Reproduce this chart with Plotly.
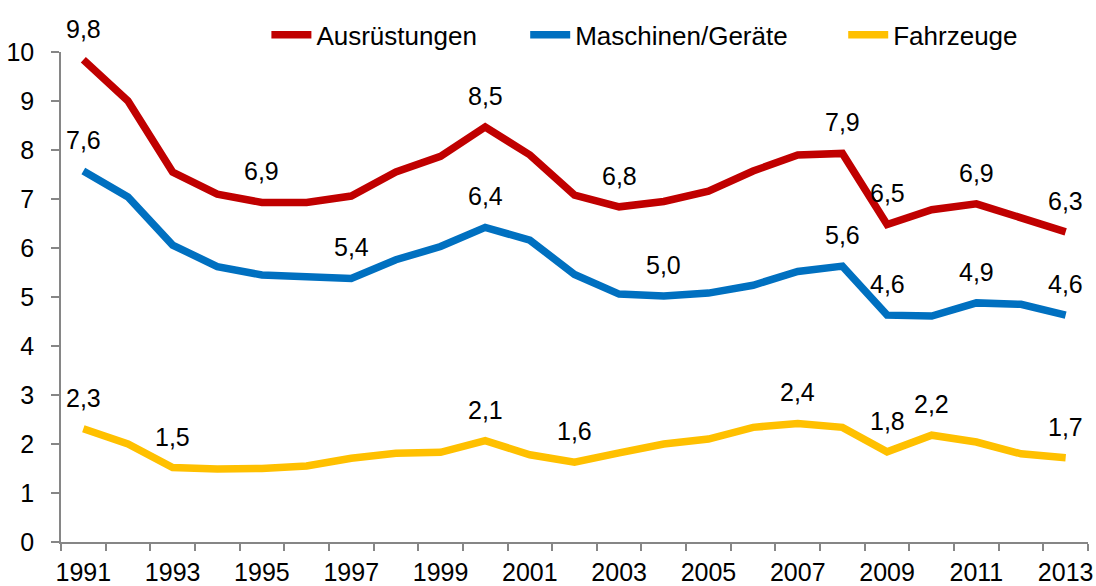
import plotly.graph_objects as go

years = list(range(1991, 2014))
ausruestungen = [9.84, 9.00, 7.55, 7.10, 6.93, 6.93, 7.06, 7.55, 7.87, 8.47, 7.90, 7.08,
                 6.84, 6.95, 7.16, 7.57, 7.90, 7.93, 6.48, 6.78, 6.90, 6.62, 6.33]
maschinen = [7.57, 7.04, 6.06, 5.62, 5.45, 5.43, 5.38, 5.76, 6.03, 6.42, 6.16, 5.46,
             5.06, 5.02, 5.08, 5.24, 5.52, 5.63, 4.63, 4.61, 4.88, 4.85, 4.63]
fahrzeuge = [2.31, 2.00, 1.52, 1.49, 1.50, 1.55, 1.71, 1.81, 1.83, 2.07, 1.78, 1.63,
             1.82, 2.00, 2.10, 2.34, 2.42, 2.34, 1.84, 2.18, 2.04, 1.80, 1.72]

label_years_red = [1991, 1995, 2000, 2003, 2008, 2009, 2011, 2013]
label_years_blue = [1991, 1997, 2000, 2004, 2008, 2009, 2011, 2013]
label_years_yellow = [1991, 1993, 2000, 2002, 2007, 2009, 2010, 2013]

NB = "\u00a0"
series = [
    ("Ausrüstungen", NB * 6, ausruestungen, "#C00000", label_years_red),
    ("Maschinen/Geräte", NB * 7, maschinen, "#0070C0", label_years_blue),
    ("Fahrzeuge", "", fahrzeuge, "#FFC000", label_years_yellow),
]

FONT = "Liberation Sans, Arial, sans-serif"
fig = go.Figure()
annotations = []
for name, pad, vals, color, lab_years in series:
    fig.add_trace(go.Scatter(x=years, y=vals, mode="lines", name=name + pad,
                             line=dict(color=color, width=7.5), hoverinfo="x+y"))
    for yr in lab_years:
        v = vals[years.index(yr)]
        annotations.append(dict(x=yr, y=v, xref="x", yref="y",
                                text=f"{v:.1f}".replace(".", ","),
                                showarrow=False, yanchor="middle", yshift=31,
                                font=dict(family=FONT, size=25, color="black")))

fig.update_layout(
    width=1096, height=586,
    margin=dict(l=61, r=8, t=52, b=44, autoexpand=False),
    paper_bgcolor="white", plot_bgcolor="white",
    font=dict(family=FONT, size=25, color="black"),
    showlegend=True,
    legend=dict(orientation="h", x=0.2, xanchor="left", y=1.035, yanchor="middle",
                font=dict(family=FONT, size=26), bgcolor="rgba(0,0,0,0)",
                itemwidth=40, tracegroupgap=0),
    annotations=annotations,
    xaxis=dict(range=[1990.5, 2013.5], tickmode="array",
               tickvals=list(range(1991, 2014, 2)),
               ticktext=[str(y) for y in range(1991, 2014, 2)],
               ticks="", showgrid=False, zeroline=False, automargin=False,
               showline=True, linecolor="#868686", linewidth=1.5,
               ticklabelstandoff=7,
               tickfont=dict(family=FONT, size=25, color="black"),
               minor=dict(tickmode="array",
                          tickvals=[y - 0.5 for y in range(1991, 2015)],
                          ticks="outside", ticklen=7, tickcolor="#868686",
                          tickwidth=1.5, showgrid=False)),
    yaxis=dict(range=[0, 10], dtick=1, tick0=0, ticks="outside", ticklen=8,
               tickcolor="#868686", tickwidth=1.5, showgrid=False, zeroline=False,
               showline=True, linecolor="#868686", linewidth=1.5, automargin=False,
               ticklabelstandoff=12,
               tickfont=dict(family=FONT, size=25, color="black")),
)

fig.write_html("out.html", config={"displayModeBar": False},
               post_script="document.body.style.margin='0';document.body.style.overflow='hidden';")
